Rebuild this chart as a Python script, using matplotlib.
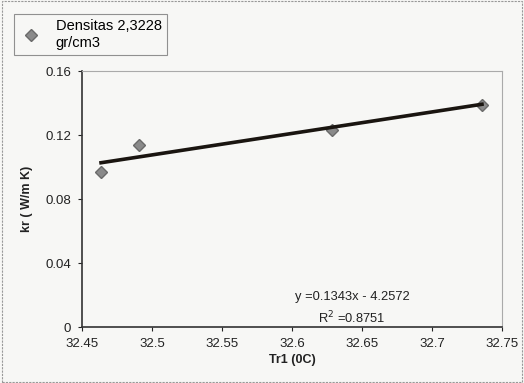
import matplotlib
matplotlib.use("Agg")
import matplotlib.pyplot as plt
import numpy as np

plt.rcParams['font.family'] = ['Liberation Sans', 'DejaVu Sans']

x_vals = [32.4636, 32.4907, 32.6286, 32.7357]
y_vals = [0.0969, 0.1138, 0.1230, 0.1390]
slope = 0.1343
intercept = -4.2572
xticks = [32.45, 32.5, 32.55, 32.6, 32.65, 32.7, 32.75]
yticks = [0, 0.04, 0.08, 0.12, 0.16]

fig = plt.figure(figsize=(5.24, 3.83), dpi=100, facecolor='#f7f7f5')
ax = fig.add_axes([82/524, 1-327/383, (502-82)/524, (327-71)/383])
ax.set_facecolor('#f7f7f5')

ax.plot(x_vals, y_vals, linestyle='none', marker='D', markersize=6,
        color='#8a8a8a', markeredgecolor='#6a6a6a', label='Densitas 2,3228\ngr/cm3')
xl = np.array([min(x_vals), max(x_vals)])
ax.plot(xl, slope*xl + intercept, color='#1a1510', linewidth=2.6)

ax.set_xlim(32.45, 32.75)
ax.set_ylim(0, 0.16)
ax.set_xticks(xticks)
ax.set_xticklabels(['32.45', '32.5', '32.55', '32.6', '32.65', '32.7', '32.75'])
ax.set_yticks(yticks)
ax.set_yticklabels(['0', '0.04', '0.08', '0.12', '0.16'])
ax.tick_params(labelsize=9.5, colors='#222222', length=3, direction='out', pad=5)
for s in ['top', 'right']:
    ax.spines[s].set_color('#aaaaaa')
    ax.spines[s].set_linestyle((0, (1, 1)))
for s in ['left', 'bottom']:
    ax.spines[s].set_color('#333333')
    ax.spines[s].set_linewidth(1.2)

ax.set_xlabel('Tr1 (0C)', fontsize=9, fontweight='bold', labelpad=3, color='#222222')
ax.set_ylabel('kr ( W/m K)', fontsize=9, fontweight='bold', labelpad=9, color='#222222')

ax.text(0.643, 0.117, 'y =0.1343x - 4.2572', transform=ax.transAxes, fontsize=9.3,
        ha='center', va='center', color='#222222')
ax.text(0.643, 0.035, 'R$^2$ =0.8751', transform=ax.transAxes, fontsize=9.3,
        ha='center', va='center', color='#222222')

leg = fig.legend(loc='upper left', bbox_to_anchor=(7/524, 1-7/383), fontsize=10.5,
                 frameon=True, fancybox=False, edgecolor='#777777',
                 facecolor='#f7f7f5', handletextpad=0.9, borderpad=0.35,
                 handlelength=1.6)
leg.get_frame().set_linewidth(0.8)

# figure border
fig.patches.append(plt.Rectangle((0.003, 0.003), 0.994, 0.994, transform=fig.transFigure,
                                 fill=False, edgecolor='#999999', linewidth=0.8, linestyle=(0, (2, 1))))

fig.savefig('out.png', dpi=100, facecolor=fig.get_facecolor())
